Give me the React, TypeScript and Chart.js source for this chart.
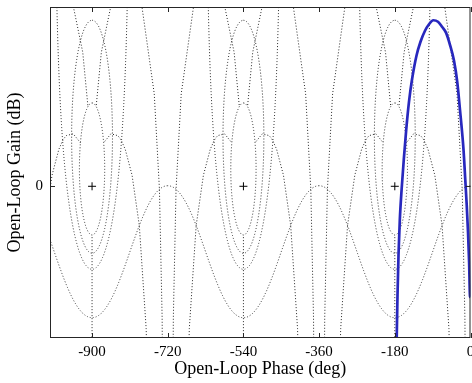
import React, { useEffect, useRef } from 'react';
import { Chart, registerables } from 'chart.js';

Chart.register(...registerables);

// ---- axes ----
const PHASE_MIN = -1000;
const PHASE_MAX = 0;
const GAIN_MIN = -11;
const GAIN_MAX = 13;
const X_TICKS = [-900, -720, -540, -360, -180, 0];
const Y_TICKS = [0];

// ---- Nichols grid levels ----
// closed-loop gain contours (dB)
const CL_GAIN_DB = [6, 2.5, 0, -6];
// closed-loop phase contours (deg)
const CL_PHASE_DEG = [-10, -40, -180, -320, -350];
// closed-loop gains (dB) at which the phase contours are sampled
const N_SAMPLE_DB = [-40, -20, -12, -6, -3, -1, 0, 0.25, 0.5, 1, 3, 6];
const PHASE_WRAPS = [0, -360, -720];
const CRITICAL_PHASES = [-900, -540, -180];
const CRITICAL_GAINS = [0, 0, 0];

// ---- open-loop response ----
const LOOP_PHASE = [-176.0, -175.5, -173.6, -171.2, -168.1, -163.9, -158.7, -152.9, -146.3, -139.2, -128.5, -118.9, -108.2, -98.7, -88.5, -77.3, -67.8, -58.3, -48.8, -39.2, -31.6, -25.0, -16.6, -12.4, -9.0, -5.9, -3.3, -1.2, 0.0, 5.0];
const LOOP_GAIN = [-12.0, -11.02, -7.9, -4.96, -2.43, -0.27, 1.91, 4.09, 6.12, 7.72, 9.47, 10.48, 11.28, 11.75, 12.04, 11.93, 11.57, 11.14, 10.26, 9.1, 7.58, 5.54, 2.64, 0.46, -1.36, -3.32, -5.5, -7.97, -8.04, -8.3];

type Pt = { x: number; y: number };

function openLoop(magDb: number, psiDeg: number): Pt {
  const m = Math.pow(10, magDb / 20);
  const p = (psiDeg * Math.PI) / 180;
  const tr = m * Math.cos(p);
  const ti = m * Math.sin(p);
  const dr = 1 - tr;
  const di = -ti;
  const den = dr * dr + di * di;
  const gr = (tr * dr + ti * di) / den;
  const gi = (ti * dr - tr * di) / den;
  const gain = 20 * Math.log10(Math.hypot(gr, gi));
  let ph = (Math.atan2(gi, gr) * 180) / Math.PI;
  ph = (((ph % 360) + 360) % 360) - 360;
  return { x: ph, y: gain };
}

function gainContour(magDb: number): Pt[] {
  const pts: Pt[] = [];
  const closed = magDb > 0;
  const start = closed ? 0 : -0.05;
  const end = closed ? -360 : -359.95;
  for (let s = start; s >= end - 1e-9; s -= 0.25) {
    const q = openLoop(magDb, s);
    if (q.y > 60) continue;
    pts.push(q);
  }
  if (!closed) pts.push(openLoop(magDb, end));
  return pts;
}

function phaseContour(psi: number): Pt[] {
  return N_SAMPLE_DB.map((g) => openLoop(g, psi));
}

function shift(pts: Pt[], d: number): Pt[] {
  return pts.map((p) => ({ x: p.x + d, y: p.y }));
}

const GRID_STYLE = {
  showLine: true,
  pointRadius: 0,
  borderColor: 'rgba(0,0,0,0.85)',
  borderWidth: 1,
  borderDash: [1, 2],
  tension: 0,
  fill: false,
};

const frame = {
  id: 'frame',
  afterDatasetsDraw(chart: any) {
    const { ctx, chartArea: a, scales } = chart;
    ctx.save();
    ctx.strokeStyle = '#262626';
    ctx.lineWidth = 1;
    ctx.setLineDash([]);
    ctx.strokeRect(a.left + 0.5, a.top + 0.5, a.right - a.left - 1, a.bottom - a.top - 1);
    ctx.beginPath();
    for (const v of X_TICKS) {
      const px = Math.round(scales.x.getPixelForValue(v)) + 0.5;
      ctx.moveTo(px, a.bottom);
      ctx.lineTo(px, a.bottom - 5);
      ctx.moveTo(px, a.top);
      ctx.lineTo(px, a.top + 5);
    }
    for (const v of Y_TICKS) {
      const py = Math.round(scales.y.getPixelForValue(v)) + 0.5;
      ctx.moveTo(a.left, py);
      ctx.lineTo(a.left + 5, py);
      ctx.moveTo(a.right, py);
      ctx.lineTo(a.right - 5, py);
    }
    ctx.stroke();
    ctx.restore();
  },
};

export default function App() {
  const ref = useRef<HTMLCanvasElement | null>(null);

  useEffect(() => {
    document.body.style.margin = '0';
    const canvas = ref.current;
    if (!canvas) return;

    const datasets: any[] = [];
    datasets.push({
      label: 'loop',
      data: LOOP_PHASE.map((x, i) => ({ x, y: LOOP_GAIN[i] })),
      showLine: true,
      pointRadius: 0,
      borderColor: 'rgb(40,40,190)',
      borderWidth: 2.7,
      cubicInterpolationMode: 'monotone',
      fill: false,
    });
    datasets.push({
      label: 'critical',
      data: CRITICAL_PHASES.map((x, i) => ({ x, y: CRITICAL_GAINS[i] })),
      showLine: false,
      pointStyle: 'cross',
      pointRadius: 4,
      borderColor: '#000',
      borderWidth: 1,
    });
    for (const g of CL_GAIN_DB) {
      const base = gainContour(g);
      for (const w of PHASE_WRAPS) datasets.push({ ...GRID_STYLE, label: `M${g}`, data: shift(base, w) });
    }
    for (const p of CL_PHASE_DEG) {
      const base = phaseContour(p);
      for (const w of PHASE_WRAPS) datasets.push({ ...GRID_STYLE, label: `N${p}`, data: shift(base, w) });
    }

    const serif = "'Liberation Serif', 'Times New Roman', serif";
    const chart = new Chart(canvas, {
      type: 'scatter',
      data: { datasets },
      options: {
        animation: false,
        responsive: false,
        devicePixelRatio: 1,
        layout: { autoPadding: false, padding: { top: 7, right: 1.5, left: 0, bottom: 0 } },
        plugins: { legend: { display: false }, tooltip: { enabled: false } },
        scales: {
          x: {
            type: 'linear',
            min: PHASE_MIN,
            max: PHASE_MAX,
            grid: { display: false, drawTicks: false },
            border: { display: false },
            afterBuildTicks: (s: any) => {
              s.ticks = X_TICKS.map((v) => ({ value: v }));
            },
            afterFit: (s: any) => {
              s.height = 45;
              s.paddingLeft = 0;
              s.paddingRight = 0;
            },
            ticks: { color: '#000', font: { family: serif, size: 15 }, padding: 5, maxRotation: 0 },
            title: {
              display: true,
              text: 'Open-Loop Phase (deg)',
              color: '#000',
              font: { family: serif, size: 18 },
              padding: { top: 0, bottom: 3 },
            },
          },
          y: {
            type: 'linear',
            min: GAIN_MIN,
            max: GAIN_MAX,
            grid: { display: false, drawTicks: false },
            border: { display: false },
            afterBuildTicks: (s: any) => {
              s.ticks = Y_TICKS.map((v) => ({ value: v }));
            },
            afterFit: (s: any) => {
              s.width = 50;
              s.paddingTop = 0;
              s.paddingBottom = 0;
            },
            ticks: { color: '#000', font: { family: serif, size: 15 }, padding: 7 },
            title: {
              display: true,
              text: 'Open-Loop Gain (dB)',
              color: '#000',
              font: { family: serif, size: 18 },
              padding: { top: 4, bottom: 0 },
            },
          },
        },
      },
      plugins: [frame],
    });
    return () => chart.destroy();
  }, []);

  return (
    <div style={{ width: 472, height: 383, background: '#fff' }}>
      <canvas ref={ref} width={472} height={383} style={{ display: 'block' }} />
    </div>
  );
}
